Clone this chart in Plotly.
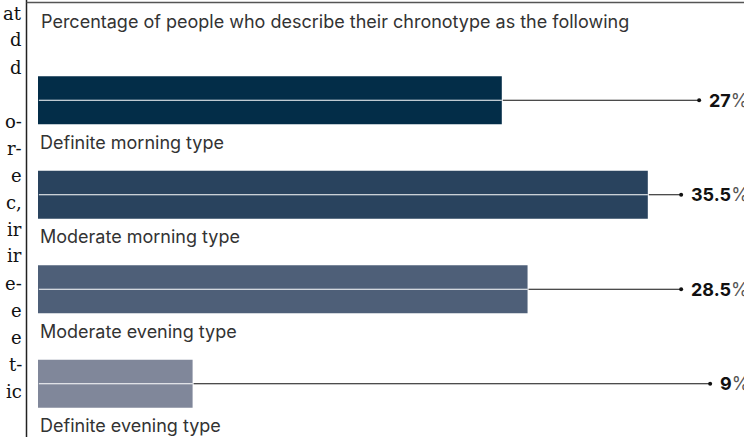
import plotly.graph_objects as go

# ---- data ----
categories = ["Definite morning type", "Moderate morning type",
              "Moderate evening type", "Definite evening type"]
values = [27, 35.5, 28.5, 9]
bar_colors = ["#032d48", "#29435e", "#4e5f78", "#80879a"]
title_text = "Percentage of people who describe their chronotype as the following"
side_fragments = ["at", "d", "d", "", "o-", "r-", "e", "c,", "ir", "ir",
                  "e-", "e", "e", "t-", "ic"]

W, H = 744, 437
ML, MR, MT, MB = 38, 0, 53, 6
PW, PH = W - ML - MR, H - MT - MB
XMAX = 41.1


def px_x(p):
    return (p - ML) / PW


def px_y(p):
    return (H - MB - p) / PH


FONT = "Inter, Roboto, sans-serif"

fig = go.Figure()
fig.add_trace(go.Bar(
    x=values, y=categories, orientation="h",
    marker=dict(color=bar_colors, line=dict(width=0)),
    width=0.51, hoverinfo="skip", showlegend=False,
))

annotations = []
shapes = []
for cat, v, c in zip(categories, values, bar_colors):
    # white line through middle of bar
    shapes.append(dict(type="line", xref="x", yref="y", x0=0.05, x1=v,
                       y0=cat, y1=cat, line=dict(color="white", width=1.2),
                       layer="above"))
    # category label below bar
    annotations.append(dict(x=0, y=cat, xref="x", yref="y", text=cat,
                            xanchor="left", yanchor="middle", xshift=0, yshift=-42,
                            showarrow=False,
                            font=dict(family=FONT, size=18, color="#333333")))
    # value label with connector and dot
    label = (f"<b>{v:g}</b><span style='color:#555555;font-weight:400'>%</span>")
    annotations.append(dict(x=v, y=cat, xref="x", yref="y",
                            ax=XMAX + 0.3, axref="x", ay=0, ayref="pixel",
                            text=label, xanchor="right", yanchor="middle",
                            showarrow=True, arrowside="start",
                            startarrowhead=6, startarrowsize=1.0,
                            arrowwidth=1, arrowcolor="#111111",
                            standoff=1, startstandoff=10,
                            borderpad=0, borderwidth=0,
                            font=dict(family=FONT, size=18, color="#111111")))

# title
annotations.append(dict(x=px_x(39), y=px_y(22), xref="paper", yref="paper",
                        text=title_text, xanchor="left", yanchor="middle",
                        showarrow=False,
                        font=dict(family=FONT, size=18, color="#333333")))

# cropped article text on the left
for i, frag in enumerate(side_fragments):
    if not frag:
        continue
    annotations.append(dict(x=px_x(23.5), y=px_y(13 + 27 * i), xref="paper", yref="paper",
                            text=frag, xanchor="right", yanchor="middle",
                            showarrow=False,
                            font=dict(family="DejaVu Serif, serif", size=18,
                                      color="#111111")))

# frame lines
shapes.append(dict(type="line", xref="paper", yref="paper",
                   x0=px_x(26.5), x1=px_x(26.5), y0=px_y(0), y1=px_y(H),
                   line=dict(color="#222222", width=1.5)))
shapes.append(dict(type="line", xref="paper", yref="paper",
                   x0=px_x(26.5), x1=px_x(W + 5), y0=px_y(2.5), y1=px_y(2.5),
                   line=dict(color="#555555", width=1.5)))

fig.update_layout(
    width=W, height=H,
    margin=dict(l=ML, r=MR, t=MT, b=MB, pad=0),
    paper_bgcolor="white", plot_bgcolor="white",
    xaxis=dict(range=[0, XMAX], autorange=False, visible=False, fixedrange=True),
    yaxis=dict(type="category", categoryorder="array", categoryarray=categories,
               autorange=False, range=[3.5, -0.5], visible=False, fixedrange=True),
    annotations=annotations, shapes=shapes,
    font=dict(family=FONT),
    showlegend=False,
)

fig.write_html("out.html", config={"displayModeBar": False})
